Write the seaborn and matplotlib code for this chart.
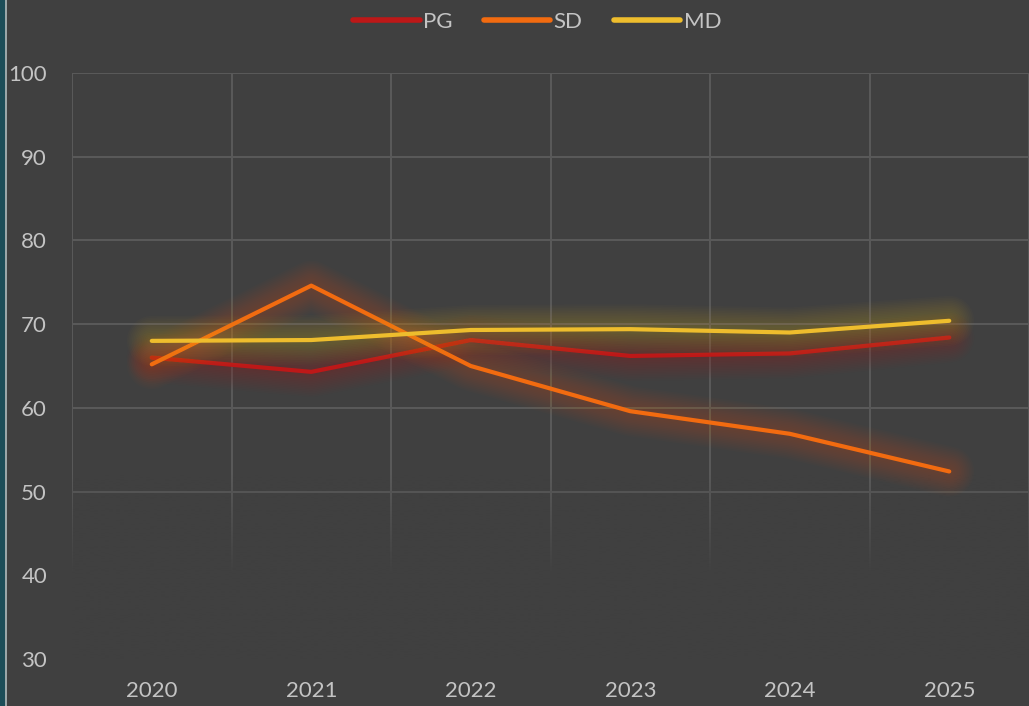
import numpy as np
import pandas as pd
import matplotlib
matplotlib.use("Agg")
import matplotlib.pyplot as plt
import matplotlib.patheffects as pe
from matplotlib.patches import Rectangle
import seaborn as sns

years = ["2020", "2021", "2022", "2023", "2024", "2025"]
pg = [66.0, 64.3, 68.1, 66.2, 66.5, 68.4]
sd = [65.2, 74.6, 65.0, 59.6, 56.9, 52.4]
md = [68.0, 68.1, 69.3, 69.4, 69.0, 70.4]

series_names = ["PG", "SD", "MD"]
colors = {"PG": "#bd1818", "SD": "#f26b10", "MD": "#eebd2d"}

bg = "#404040"
txt = "#c4c4c4"
grid_c = "#5a5a5a"

df = pd.DataFrame({"year": years * 3,
                   "value": pg + sd + md,
                   "series": ["PG"] * 6 + ["SD"] * 6 + ["MD"] * 6})

sns.set_theme(style="dark")
plt.rcParams['font.family'] = ['Lato', 'DejaVu Sans']

fig = plt.figure(figsize=(10.29, 7.06), dpi=100, facecolor=bg)
ax = fig.add_axes([0.07, 0.0666, 0.93, 0.83])
ax.set_facecolor(bg)

sns.lineplot(data=df, x="year", y="value", hue="series", palette=colors,
             hue_order=series_names, linewidth=3, ax=ax, legend=False,
             zorder=5, solid_capstyle="round")

# soft glow around each line (many faint strokes to look blurred)
glow_widths = np.linspace(36, 5, 14)
for line in ax.get_lines():
    c = line.get_color()
    effects = [pe.Stroke(linewidth=w, foreground=c, alpha=0.02) for w in glow_widths]
    line.set_path_effects(effects + [pe.Normal()])

ax.set_xticks(range(len(years)))
ax.set_xticklabels(years)

# grid
for b in np.arange(-0.5, len(years), 1.0):
    ax.axvline(b, color=grid_c, lw=1.4, zorder=1)
for v in range(30, 101, 10):
    ax.axhline(v, color=grid_c, lw=1.4, zorder=1)

# fade grid out toward the bottom
yy = np.linspace(30, 52, 256)
alpha = np.clip((52 - yy) / 12.0, 0, 1)
rgba = np.zeros((256, 1, 4))
rgba[..., :3] = matplotlib.colors.to_rgb(bg)
rgba[:, 0, 3] = alpha
ax.imshow(rgba, extent=(-0.5, len(years) - 0.5, 30, 52), aspect="auto",
          origin="lower", zorder=2, interpolation="bilinear")
ax.set_xlim(-0.5, len(years) - 0.5)
ax.set_ylim(30, 100)
ax.set_yticks(range(30, 101, 10))

for s in ax.spines.values():
    s.set_visible(False)
ax.tick_params(axis="both", length=0, colors=txt, labelsize=16, pad=18)
ax.tick_params(axis="x", pad=16)
ax.set_xlabel("")
ax.set_ylabel("")

handles = [plt.Line2D([], [], color=colors[n], lw=4, solid_capstyle="round") for n in series_names]
fig.legend(handles, series_names, loc="upper center", bbox_to_anchor=(0.522, 1.012),
           ncol=3, frameon=False, fontsize=16, labelcolor=txt,
           handlelength=3.0, handletextpad=0.15, columnspacing=1.4)

# left edge band
fig.patches.append(Rectangle((0, 0), 0.005, 1, transform=fig.transFigure,
                             facecolor="#1c4d58", edgecolor="none"))
fig.patches.append(Rectangle((0.005, 0), 0.0015, 1, transform=fig.transFigure,
                             facecolor="#9aa6a8", edgecolor="none"))

fig.savefig("out.png", dpi=100, facecolor=bg)
